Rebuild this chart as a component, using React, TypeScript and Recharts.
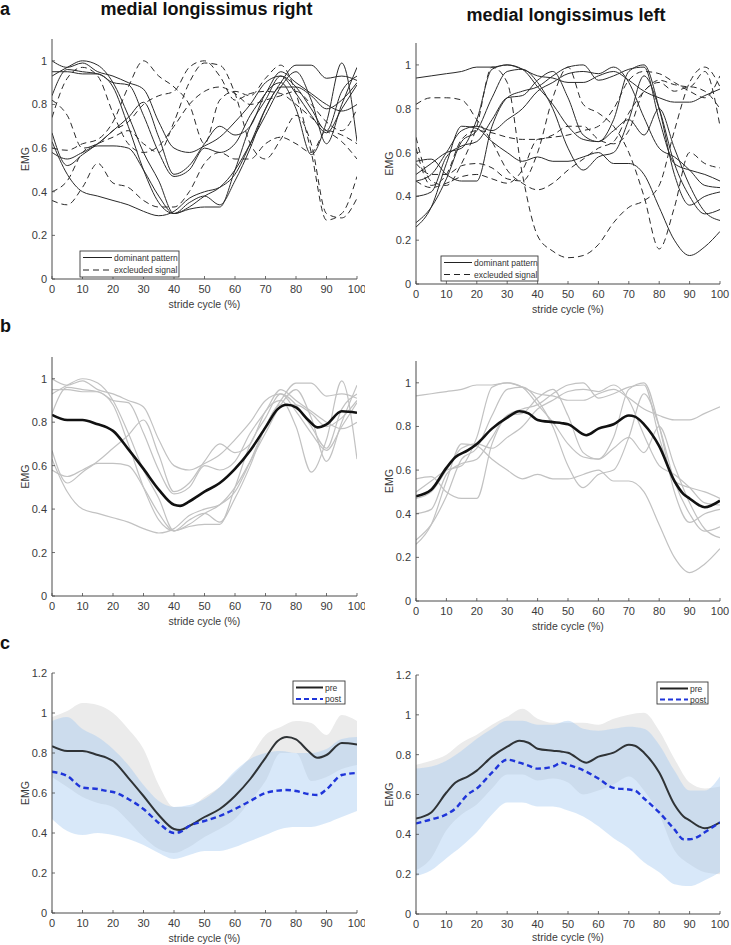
import React from 'react';
import { ComposedChart, Line, Area, XAxis, YAxis } from 'recharts';

// stride cycle sampling (%)
const stride = [0, 5, 10, 15, 20, 25, 30, 35, 40, 45, 50, 55, 60, 65, 70, 75, 80, 85, 90, 95, 100];
const strideTicks = [0, 10, 20, 30, 40, 50, 60, 70, 80, 90, 100];
const emgTicks = [0, 0.2, 0.4, 0.6, 0.8, 1];
const emgTicksWide = [0, 0.2, 0.4, 0.6, 0.8, 1, 1.2];

// medial longissimus right: single strides following the dominant pattern
const rightDom1 = [1.0, 0.97, 0.99, 0.95, 0.93, 0.9, 0.87, 0.72, 0.6, 0.58, 0.61, 0.65, 0.72, 0.8, 0.9, 0.93, 0.85, 0.75, 0.67, 0.78, 0.89];
const rightDom2 = [0.93, 0.97, 1.0, 0.98, 0.9, 0.75, 0.58, 0.45, 0.3, 0.33, 0.38, 0.42, 0.5, 0.62, 0.75, 0.88, 0.95, 0.82, 0.62, 0.8, 0.97];
const rightDom3 = [0.95, 0.95, 0.94, 0.94, 0.9, 0.89, 0.75, 0.58, 0.47, 0.5, 0.6, 0.58, 0.62, 0.75, 0.85, 0.95, 0.9, 0.85, 0.8, 0.77, 0.8];
const rightDom4 = [0.84, 0.96, 0.95, 0.94, 0.88, 0.7, 0.5, 0.35, 0.3, 0.35, 0.38, 0.34, 0.45, 0.6, 0.78, 0.9, 0.98, 0.98, 0.92, 0.93, 0.91];
const rightDom5 = [0.67, 0.52, 0.57, 0.62, 0.68, 0.74, 0.81, 0.65, 0.48, 0.52, 0.62, 0.7, 0.66, 0.7, 0.85, 0.9, 0.78, 0.57, 0.72, 0.99, 0.63];
const rightDom6 = [0.63, 0.48, 0.4, 0.38, 0.36, 0.34, 0.31, 0.29, 0.31, 0.37, 0.4, 0.42, 0.48, 0.62, 0.78, 0.88, 0.88, 0.84, 0.78, 0.82, 0.9];
const rightDom7 = [0.58, 0.55, 0.58, 0.61, 0.61, 0.6, 0.5, 0.38, 0.3, 0.32, 0.33, 0.33, 0.5, 0.7, 0.82, 0.93, 0.88, 0.78, 0.68, 0.86, 0.93];

// medial longissimus right: excluded strides
const rightExc1 = [0.82, 0.75, 0.6, 0.62, 0.68, 0.72, 0.8, 0.84, 0.86, 0.97, 1.0, 0.93, 0.82, 0.85, 0.86, 0.85, 0.8, 0.74, 0.68, 0.63, 0.55];
const rightExc2 = [0.6, 0.59, 0.62, 0.64, 0.72, 0.88, 1.0, 0.93, 0.88, 0.8, 0.62, 0.82, 0.86, 0.84, 0.92, 0.98, 0.85, 0.58, 0.27, 0.3, 0.47];
const rightExc3 = [0.4, 0.45, 0.58, 0.62, 0.65, 0.68, 0.62, 0.58, 0.72, 0.9, 0.99, 0.98, 0.85, 0.62, 0.55, 0.64, 0.75, 0.62, 0.3, 0.28, 0.37];
const rightExc4 = [0.36, 0.34, 0.42, 0.53, 0.44, 0.42, 0.36, 0.33, 0.33, 0.4, 0.53, 0.58, 0.55, 0.55, 0.62, 0.65, 0.62, 0.58, 0.68, 0.66, 0.62];
const rightExc5 = [0.74, 0.92, 0.97, 0.93, 0.76, 0.62, 0.58, 0.61, 0.7, 0.8, 0.86, 0.88, 0.85, 0.8, 0.82, 0.84, 0.86, 0.8, 0.72, 0.68, 0.78];

// medial longissimus left: dominant pattern strides
const leftDom1 = [0.94, 0.95, 0.96, 0.97, 0.99, 0.99, 1.0, 0.98, 0.95, 0.94, 0.92, 0.92, 0.95, 0.97, 0.93, 0.88, 0.85, 0.83, 0.83, 0.86, 0.89];
const leftDom2 = [0.26, 0.35, 0.55, 0.72, 0.71, 0.65, 0.6, 0.56, 0.58, 0.56, 0.56, 0.58, 0.6, 0.55, 0.55, 0.5, 0.35, 0.2, 0.13, 0.17, 0.24];
const leftDom3 = [0.28, 0.35, 0.48, 0.65, 0.7, 0.85, 0.97, 0.98, 0.92, 0.8, 0.62, 0.52, 0.58, 0.6, 0.75, 0.95, 0.8, 0.55, 0.4, 0.32, 0.34];
const leftDom4 = [0.4, 0.42, 0.58, 0.63, 0.65, 0.75, 0.85, 0.86, 0.93, 0.97, 0.85, 0.68, 0.65, 0.7, 0.75, 0.68, 0.8, 0.62, 0.45, 0.33, 0.29];
const leftDom5 = [0.5, 0.55, 0.6, 0.62, 0.75, 0.98, 1.0, 0.98, 0.9, 0.82, 0.72, 0.66, 0.65, 0.75, 0.97, 1.0, 0.8, 0.5, 0.36, 0.4, 0.42];
const leftDom6 = [0.56, 0.57, 0.5, 0.47, 0.47, 0.72, 0.85, 0.88, 0.9, 0.95, 0.99, 1.0, 0.93, 0.95, 0.98, 0.99, 0.75, 0.55, 0.52, 0.5, 0.47];
const leftDom7 = [0.47, 0.5, 0.6, 0.7, 0.72, 0.7, 0.75, 0.8, 0.88, 0.92, 0.96, 0.97, 0.96, 0.99, 0.92, 0.76, 0.62, 0.58, 0.52, 0.45, 0.44];

// medial longissimus left: excluded strides
const leftExc1 = [0.82, 0.85, 0.85, 0.84, 0.75, 0.65, 0.52, 0.46, 0.43, 0.46, 0.52, 0.57, 0.62, 0.65, 0.78, 0.88, 0.93, 0.91, 0.9, 0.97, 0.72];
const leftExc2 = [0.67, 0.47, 0.45, 0.55, 0.72, 0.99, 0.92, 0.5, 0.22, 0.15, 0.12, 0.13, 0.18, 0.28, 0.35, 0.38, 0.45, 0.7, 0.92, 0.99, 0.9];
const leftExc3 = [0.55, 0.5, 0.5, 0.54, 0.55, 0.53, 0.48, 0.47, 0.6, 0.85, 0.99, 0.82, 0.78, 0.72, 0.6, 0.4, 0.16, 0.35, 0.6, 0.55, 0.53];
const leftExc4 = [0.47, 0.44, 0.46, 0.49, 0.5, 0.48, 0.46, 0.52, 0.66, 0.67, 0.68, 0.7, 0.72, 0.8, 0.93, 0.97, 0.96, 0.92, 0.88, 0.85, 0.95];
const leftExc5 = [0.62, 0.45, 0.5, 0.66, 0.7, 0.69, 0.67, 0.66, 0.66, 0.68, 0.72, 0.72, 0.66, 0.64, 0.7, 0.88, 0.92, 0.88, 0.9, 0.88, 0.8];

// averaged dominant pattern (pre) and post-intervention mean
const rightMeanStride = [0, 5, 10, 15, 18, 20, 25, 30, 35, 40, 42, 45, 50, 55, 60, 65, 70, 74, 77, 80, 84, 87, 90, 95, 100];
const rightPre = [0.834, 0.81, 0.81, 0.79, 0.776, 0.76, 0.676, 0.585, 0.49, 0.42, 0.415, 0.435, 0.48, 0.52, 0.585, 0.67, 0.776, 0.86, 0.88, 0.868, 0.81, 0.776, 0.79, 0.85, 0.843];
const rightPost = [0.706, 0.685, 0.627, 0.62, 0.61, 0.605, 0.57, 0.52, 0.45, 0.4, 0.405, 0.435, 0.46, 0.485, 0.52, 0.56, 0.6, 0.612, 0.615, 0.61, 0.595, 0.59, 0.618, 0.69, 0.7];

const leftMeanStride = [0, 5, 10, 13, 17, 20, 25, 30, 34, 37, 40, 45, 48, 50, 56, 60, 65, 70, 72, 75, 80, 85, 88, 90, 93, 95, 100];
const leftPre = [0.48, 0.51, 0.61, 0.66, 0.69, 0.72, 0.79, 0.84, 0.87, 0.86, 0.83, 0.82, 0.815, 0.81, 0.76, 0.79, 0.81, 0.85, 0.845, 0.81, 0.71, 0.55, 0.49, 0.47, 0.44, 0.43, 0.46];
const leftPost = [0.455, 0.475, 0.5, 0.53, 0.6, 0.63, 0.71, 0.775, 0.76, 0.745, 0.73, 0.74, 0.76, 0.75, 0.715, 0.68, 0.633, 0.625, 0.62, 0.58, 0.51, 0.425, 0.375, 0.375, 0.39, 0.41, 0.46];

// standard deviation bands (on the stride grid)
const rightPreHigh = [0.98, 1.01, 1.05, 1.04, 1.0, 0.92, 0.82, 0.64, 0.53, 0.53, 0.58, 0.63, 0.7, 0.78, 0.89, 0.93, 0.96, 0.95, 0.89, 0.99, 0.96];
const rightPreLow = [0.68, 0.63, 0.58, 0.55, 0.53, 0.46, 0.38, 0.32, 0.3, 0.33, 0.38, 0.42, 0.47, 0.56, 0.66, 0.8, 0.8, 0.66, 0.68, 0.72, 0.74];
const rightPostHigh = [0.96, 0.98, 0.92, 0.88, 0.82, 0.74, 0.64, 0.56, 0.53, 0.54, 0.57, 0.63, 0.71, 0.77, 0.8, 0.81, 0.8, 0.8, 0.82, 0.87, 0.88];
const rightPostLow = [0.47, 0.41, 0.39, 0.4, 0.39, 0.37, 0.34, 0.3, 0.27, 0.29, 0.31, 0.31, 0.33, 0.36, 0.39, 0.42, 0.43, 0.43, 0.45, 0.48, 0.51];

const leftPreHigh = [0.75, 0.77, 0.8, 0.86, 0.9, 0.95, 0.99, 1.03, 0.98, 0.96, 0.96, 0.96, 0.95, 0.98, 1.0, 1.01, 0.92, 0.78, 0.66, 0.63, 0.64];
const leftPreLow = [0.22, 0.28, 0.42, 0.5, 0.55, 0.63, 0.7, 0.7, 0.67, 0.68, 0.66, 0.6, 0.62, 0.65, 0.69, 0.62, 0.5, 0.32, 0.25, 0.21, 0.2];
const leftPostHigh = [0.73, 0.74, 0.77, 0.82, 0.88, 0.93, 0.97, 0.97, 0.95, 0.95, 0.97, 0.93, 0.92, 0.93, 0.94, 0.93, 0.85, 0.72, 0.62, 0.62, 0.69];
const leftPostLow = [0.19, 0.22, 0.28, 0.34, 0.41, 0.5, 0.56, 0.56, 0.54, 0.54, 0.52, 0.49, 0.44, 0.38, 0.33, 0.26, 0.21, 0.15, 0.14, 0.17, 0.21];

const rightDominant = [rightDom1, rightDom2, rightDom3, rightDom4, rightDom5, rightDom6, rightDom7];
const rightExcluded = [rightExc1, rightExc2, rightExc3, rightExc4, rightExc5];
const leftDominant = [leftDom1, leftDom2, leftDom3, leftDom4, leftDom5, leftDom6, leftDom7];
const leftExcluded = [leftExc1, leftExc2, leftExc3, leftExc4, leftExc5];

const FONT = '"Liberation Sans", Arial, Helvetica, sans-serif';
const AXIS = '#4a4a4a';
const AXIS_TEXT = '#3a3a3a';
const Y_AXIS_W = 40;
const X_AXIS_H = 34;
const COLS = {
  left: { left: 0, width: 365, ml: 12, mr: 8 },
  right: { left: 365, width: 366, ml: 11, mr: 11 },
};

const strideRows = (dom: number[][], exc: number[][]) =>
  stride.map((x, i) => {
    const row: Record<string, number> = { x };
    dom.forEach((s, k) => (row[`d${k}`] = s[i]));
    exc.forEach((s, k) => (row[`e${k}`] = s[i]));
    return row;
  });

const meanRows = (xs: number[], ys: number[]) => xs.map((x, i) => ({ x, y: ys[i] }));

const bandRows = (preLo: number[], preHi: number[], postLo: number[], postHi: number[]) =>
  stride.map((x, i) => ({ x, pre: [preLo[i], preHi[i]], post: [postLo[i], postHi[i]] }));

const XTick = (props: any) => {
  const { x, y, payload } = props;
  return (
    <g>
      <line x1={x} x2={x} y1={y} y2={y - 3} stroke={AXIS} strokeWidth={0.8} />
      <text x={x} y={y + 14} textAnchor="middle" fontSize={11} fill={AXIS_TEXT} fontFamily={FONT}>
        {payload.value}
      </text>
    </g>
  );
};

const YTick = (props: any) => {
  const { x, y, payload } = props;
  return (
    <g>
      <line x1={x} x2={x + 3} y1={y} y2={y} stroke={AXIS} strokeWidth={0.8} />
      <text x={x - 5} y={y + 4} textAnchor="end" fontSize={11} fill={AXIS_TEXT} fontFamily={FONT}>
        {payload.value}
      </text>
    </g>
  );
};

const strideTitle = (offset: number) => (props: any) => {
  const vb = props.viewBox;
  return (
    <text x={vb.x + vb.width / 2} y={vb.y + offset} textAnchor="middle" fontSize={10.5} fill={AXIS_TEXT} fontFamily={FONT}>
      stride cycle (%)
    </text>
  );
};

const emgTitle = (props: any) => {
  const vb = props.viewBox;
  const cx = vb.x + 13;
  const cy = vb.y + vb.height / 2;
  return (
    <text x={cx} y={cy} transform={`rotate(-90 ${cx} ${cy})`} textAnchor="middle" dominantBaseline="central"
      fontSize={10.5} fill={AXIS_TEXT} fontFamily={FONT}>
      EMG
    </text>
  );
};

type PanelProps = {
  col: 'left' | 'right';
  plotTop: number;
  plotBottom: number;
  yMax: number;
  yTicks: number[];
  data?: any[];
  titleOffset?: number;
  children: React.ReactNode;
};

function Panel({ col, plotTop, plotBottom, yMax, yTicks, data, titleOffset = 29, children }: PanelProps) {
  const c = COLS[col];
  const top = plotTop - 6;
  const height = plotBottom - top + X_AXIS_H;
  return (
    <div style={{ position: 'absolute', left: c.left, top }}>
      <ComposedChart width={c.width} height={height} data={data}
        margin={{ top: 6, right: c.mr, bottom: 0, left: c.ml }}>
        <XAxis type="number" dataKey="x" domain={[0, 100]} ticks={strideTicks} interval={0}
          height={X_AXIS_H} tickSize={0} tickMargin={0} tickLine={false} tick={<XTick />}
          stroke={AXIS} allowDataOverflow label={strideTitle(titleOffset)} />
        <YAxis type="number" domain={[0, yMax]} ticks={yTicks} interval={0} width={Y_AXIS_W}
          tickSize={0} tickMargin={0} tickLine={false} tick={<YTick />} stroke={AXIS}
          allowDataOverflow label={emgTitle} />
        {children}
      </ComposedChart>
    </div>
  );
}

const rawLines = (n: number, prefix: string, stroke: string, width: number, dash?: string) =>
  Array.from({ length: n }, (_, k) => (
    <Line key={`${prefix}${k}`} dataKey={`${prefix}${k}`} type="monotone" stroke={stroke}
      strokeWidth={width} strokeDasharray={dash} dot={false} activeDot={false} isAnimationActive={false} />
  ));

type LegendItem = { label: string; stroke: string; width: number; dash?: string };

function LegendBox({ x, y, w, h, lineLen, items, rowGap }: {
  x: number; y: number; w: number; h: number; lineLen: number; items: LegendItem[]; rowGap: number;
}) {
  return (
    <g>
      <rect x={x} y={y} width={w} height={h} fill="#fff" stroke="#3a3a3a" strokeWidth={0.9} />
      {items.map((it, i) => {
        const ly = y + 6.5 + i * rowGap;
        return (
          <g key={it.label}>
            <line x1={x + 3} x2={x + 3 + lineLen} y1={ly} y2={ly} stroke={it.stroke}
              strokeWidth={it.width} strokeDasharray={it.dash} />
            <text x={x + 5 + lineLen} y={ly + 3} fontSize={8.5} fill="#333" fontFamily={FONT}>{it.label}</text>
          </g>
        );
      })}
    </g>
  );
}

export default function App() {
  const rightA = strideRows(rightDominant, rightExcluded);
  const leftA = strideRows(leftDominant, leftExcluded);
  const rightBands = bandRows(rightPreLow, rightPreHigh, rightPostLow, rightPostHigh);
  const leftBands = bandRows(leftPreLow, leftPreHigh, leftPostLow, leftPostHigh);

  const patternLegend: LegendItem[] = [
    { label: 'dominant pattern', stroke: '#222', width: 1 },
    { label: 'excleuded signal', stroke: '#222', width: 1, dash: '6 4' },
  ];
  const prePostLegend: LegendItem[] = [
    { label: 'pre', stroke: '#222', width: 2 },
    { label: 'post', stroke: '#1f35d9', width: 2.2, dash: '5 3' },
  ];

  const meanLine = (xs: number[], ys: number[], stroke: string, width: number, dash?: string) => (
    <Line data={meanRows(xs, ys)} dataKey="y" type="monotone" stroke={stroke} strokeWidth={width}
      strokeDasharray={dash} dot={false} activeDot={false} isAnimationActive={false} />
  );

  return (
    <div style={{ position: 'absolute', left: 0, top: 0, width: 731, height: 945, background: '#fff', fontFamily: FONT }}>
      {/* a: single strides, dominant vs excluded */}
      <Panel col="left" plotTop={39} plotBottom={279} yMax={1.1} yTicks={emgTicks} data={rightA}>
        {rawLines(5, 'e', '#2a2a2a', 1, '6 4')}
        {rawLines(7, 'd', '#2a2a2a', 1)}
      </Panel>
      <Panel col="right" plotTop={43} plotBottom={284} yMax={1.1} yTicks={emgTicks} data={leftA}>
        {rawLines(5, 'e', '#2a2a2a', 1, '6 4')}
        {rawLines(7, 'd', '#2a2a2a', 1)}
      </Panel>

      {/* b: dominant strides with their average */}
      <Panel col="left" plotTop={357} plotBottom={596} yMax={1.1} yTicks={emgTicks} data={rightA}>
        {rawLines(7, 'd', '#c2c2c2', 1.2)}
        {meanLine(rightMeanStride, rightPre, '#111', 2.6)}
      </Panel>
      <Panel col="right" plotTop={361} plotBottom={601} yMax={1.1} yTicks={emgTicks} data={leftA}>
        {rawLines(7, 'd', '#c2c2c2', 1.2)}
        {meanLine(leftMeanStride, leftPre, '#111', 2.6)}
      </Panel>

      {/* c: pre vs post with SD bands */}
      <Panel col="left" plotTop={673} plotBottom={913} yMax={1.2} yTicks={emgTicksWide} data={rightBands}>
        <Area dataKey="pre" type="monotone" fill="#ebebeb" fillOpacity={1} stroke="none" isAnimationActive={false} />
        <Area dataKey="post" type="monotone" fill="#a2c9f1" fillOpacity={0.42} stroke="none" isAnimationActive={false} />
        {meanLine(rightMeanStride, rightPre, '#2f3336', 2)}
        {meanLine(rightMeanStride, rightPost, '#1f35d9', 2.4, '5.5 3.5')}
      </Panel>
      <Panel col="right" plotTop={675} plotBottom={914} yMax={1.2} yTicks={emgTicksWide} data={leftBands} titleOffset={27}>
        <Area dataKey="pre" type="monotone" fill="#ebebeb" fillOpacity={1} stroke="none" isAnimationActive={false} />
        <Area dataKey="post" type="monotone" fill="#a2c9f1" fillOpacity={0.42} stroke="none" isAnimationActive={false} />
        {meanLine(leftMeanStride, leftPre, '#2f3336', 2)}
        {meanLine(leftMeanStride, leftPost, '#1f35d9', 2.4, '5.5 3.5')}
      </Panel>

      <svg width={731} height={945} style={{ position: 'absolute', left: 0, top: 0, pointerEvents: 'none' }}>
        <g fontFamily={FONT} fontWeight="bold" fill="#111" fontSize={18}>
          <text x={0} y={15}>a</text>
          <text x={0} y={332}>b</text>
          <text x={0} y={649}>c</text>
          <text x={206.5} y={15} textAnchor="middle">medial longissimus right</text>
          <text x={566} y={20.5} textAnchor="middle">medial longissimus left</text>
        </g>
        <LegendBox x={80} y={251} w={99} h={26} lineLen={29} rowGap={12.5} items={patternLegend} />
        <LegendBox x={441} y={256} w={97} h={25} lineLen={28} rowGap={12} items={patternLegend} />
        <LegendBox x={293} y={681} w={52} h={23} lineLen={27} rowGap={11.5} items={prePostLegend} />
        <LegendBox x={657} y={682} w={51} h={22} lineLen={28} rowGap={11} items={prePostLegend} />
      </svg>
    </div>
  );
}
